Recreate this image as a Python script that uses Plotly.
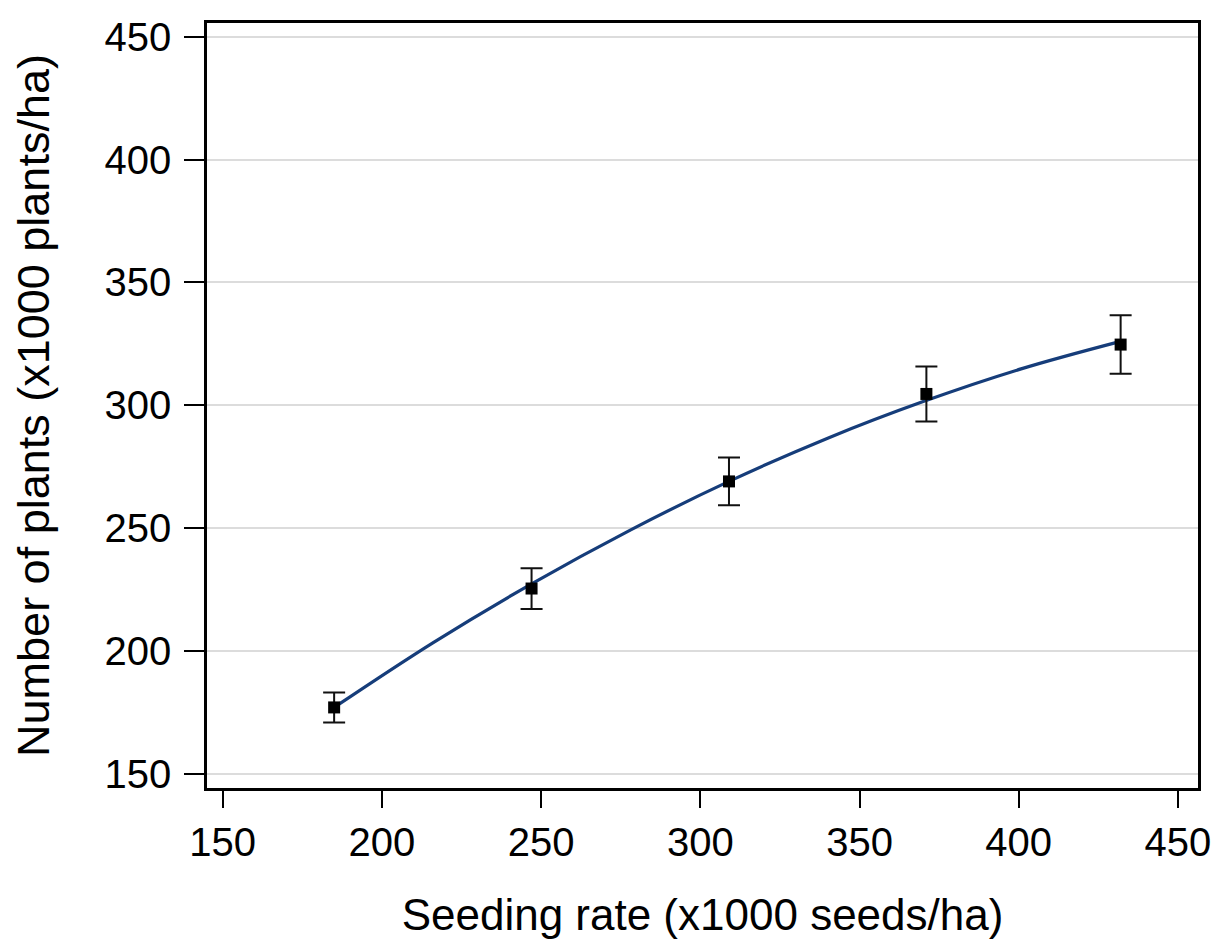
import plotly.graph_objects as go

# Observed means
seeding_rate = [185, 247, 309, 371, 432]
plants = [177.0, 225.4, 269.0, 304.6, 324.7]
err = [6.1, 8.3, 9.7, 11.2, 11.9]

# Fitted curve
curve_x = [185, 216, 247, 278, 309, 340, 370, 401, 432]
curve_y = [177.0, 203.3, 227.3, 249.2, 269.0, 286.6, 301.5, 314.9, 326.0]

x_ticks = [150, 200, 250, 300, 350, 400, 450]
y_ticks = [150, 200, 250, 300, 350, 400, 450]

FONT = "Liberation Sans, Arial, sans-serif"

fig = go.Figure()
fig.add_trace(go.Scatter(
    x=curve_x, y=curve_y, mode="lines",
    line=dict(color="#163d7a", width=3.2, shape="spline"),
    hoverinfo="skip", showlegend=False))
fig.add_trace(go.Scatter(
    x=seeding_rate, y=plants, mode="markers",
    marker=dict(symbol="square", size=12, color="black"),
    error_y=dict(type="data", array=err, color="#111111", thickness=2, width=11),
    showlegend=False))

fig.update_layout(
    width=1221, height=943,
    margin=dict(l=199, r=31, t=7, b=163),
    paper_bgcolor="white", plot_bgcolor="white",
    font=dict(family=FONT, color="black", size=40),
    xaxis=dict(
        range=[145.07, 456.3], tickvals=x_ticks, ticks="outside", ticklen=17,
        tickwidth=2, tickcolor="black", showline=True, linecolor="black",
        linewidth=2.5, mirror=True, showgrid=False, zeroline=False,
        tickfont=dict(size=40),
        title=dict(text="Seeding rate (x1000 seeds/ha)", font=dict(size=44), standoff=37)),
    yaxis=dict(
        range=[144.2, 455.6], tickvals=y_ticks, ticks="outside", ticklen=20,
        tickwidth=2, tickcolor="black", showline=True, linecolor="black",
        linewidth=2.5, mirror=True, showgrid=True, gridcolor="#dcdcdc",
        gridwidth=1.5, zeroline=False, tickfont=dict(size=40),
        ticklabelstandoff=5,
        title=dict(text="Number of plants (x1000 plants/ha)", font=dict(size=45), standoff=45)),
)

fig.write_html("out.html")
